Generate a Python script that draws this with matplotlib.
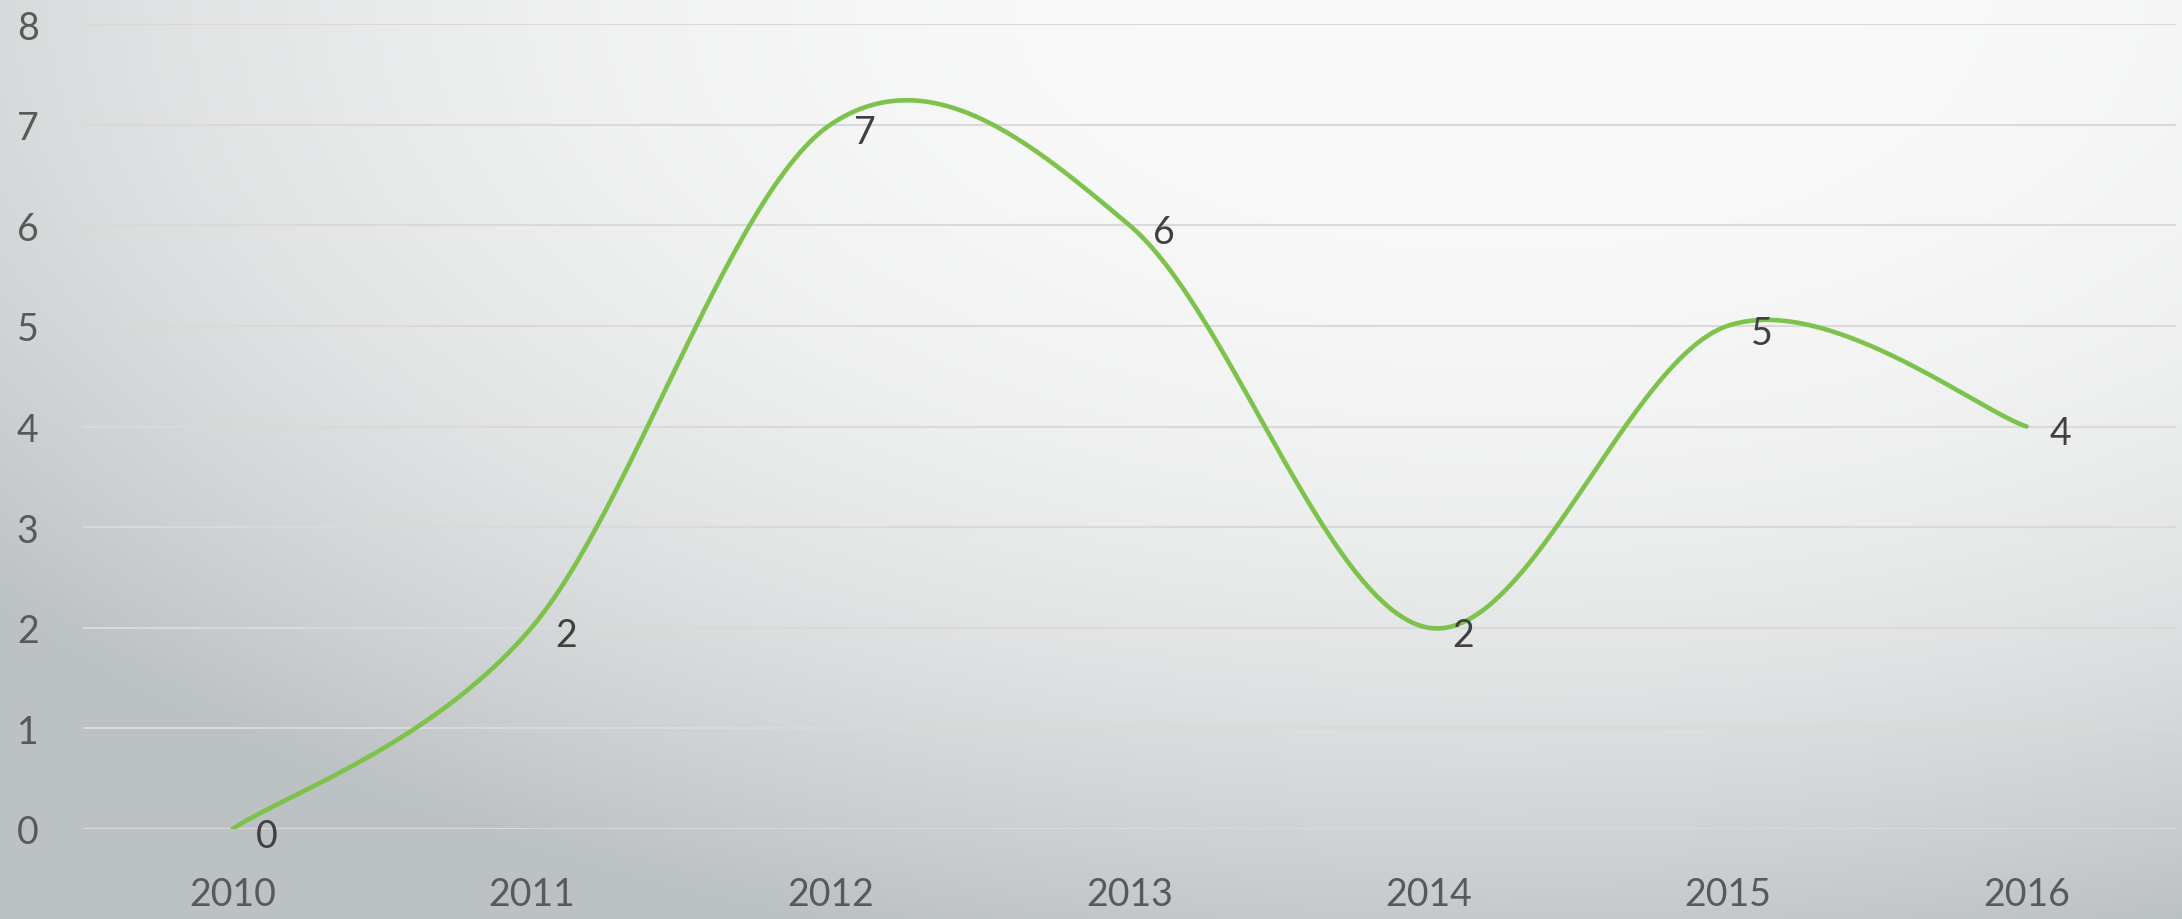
import numpy as np
import matplotlib
matplotlib.use('Agg')
import matplotlib.pyplot as plt
from matplotlib.colors import to_rgb

# ── Data ──────────────────────────────────────────────────────────────────────
years = ['2010', '2011', '2012', '2013', '2014', '2015', '2016']
values = [0, 2, 7, 6, 2, 5, 4]
y_ticks = [0, 1, 2, 3, 4, 5, 6, 7, 8]

LINE_COLOR = '#7dc24b'
TICK_COLOR = '#595959'
LABEL_COLOR = '#404040'
GRID_COLOR = '#d9d9d9'

plt.rcParams['font.family'] = ['Lato', 'DejaVu Sans']

W, H = 2182, 920
fig = plt.figure(figsize=(W / 100, H / 100), dpi=100)

# ── Background: radial gradient (light top-right, grey bottom-left) ───────────
bg = fig.add_axes([0, 0, 1, 1], zorder=0)
yy, xx = np.mgrid[0:H:2, 0:W:2]
d = np.sqrt(((xx - 1500) / 1900.0) ** 2 + (yy / 980.0) ** 2)
t = np.clip(d, 0, 1.05) ** 2.47
t = np.clip(t, 0, 1)[..., None]
light = np.array(to_rgb('#fafafa'))
dark = np.array(to_rgb('#bcc1c3'))
img = light * (1 - t) + dark * t
bg.imshow(img, extent=[0, 1, 0, 1], aspect='auto', origin='upper', interpolation='bilinear')
bg.axis('off')

# ── Main axes ─────────────────────────────────────────────────────────────────
ax = fig.add_axes([83 / W, 90 / H, (2176 - 83) / W, (830 - 25) / H], zorder=1)
ax.patch.set_alpha(0)

x = np.arange(len(values))
yv = np.array(values, dtype=float)

# Excel-style smoothed line: cubic Bezier with control points from neighbours / 6
px = np.concatenate([[x[0]], x, [x[-1]]]).astype(float)
py = np.concatenate([[yv[0]], yv, [yv[-1]]])
cx, cy = [], []
for i in range(1, len(px) - 2):
    p0 = np.array([px[i], py[i]])
    p1 = np.array([px[i + 1], py[i + 1]])
    c1 = p0 + (np.array([px[i + 1], py[i + 1]]) - np.array([px[i - 1], py[i - 1]])) / 6
    c2 = p1 - (np.array([px[i + 2], py[i + 2]]) - np.array([px[i], py[i]])) / 6
    s = np.linspace(0, 1, 60)[:, None]
    seg = (1 - s) ** 3 * p0 + 3 * (1 - s) ** 2 * s * c1 + 3 * (1 - s) * s ** 2 * c2 + s ** 3 * p1
    cx.extend(seg[:, 0])
    cy.extend(seg[:, 1])

ax.plot(cx, cy, color=LINE_COLOR, linewidth=3.3, solid_capstyle='round', zorder=3)

for xi, v in zip(x, values):
    ax.annotate(str(v), (xi, v), xytext=(17, -5), textcoords='offset points',
                ha='left', va='center', fontsize=27, color=LABEL_COLOR, zorder=4)

ax.set_xlim(-0.5, len(values) - 0.5)
ax.set_ylim(0, 8)
ax.set_yticks(y_ticks)
ax.set_xticks(x)
ax.set_xticklabels(years)
ax.grid(axis='y', color=GRID_COLOR, linewidth=1.5)
ax.set_axisbelow(True)
for sp in ax.spines.values():
    sp.set_visible(False)
ax.tick_params(axis='both', length=0, labelsize=27, labelcolor=TICK_COLOR)
ax.tick_params(axis='y', pad=32)
ax.tick_params(axis='x', pad=34)

fig.savefig('out.png', dpi=100)
